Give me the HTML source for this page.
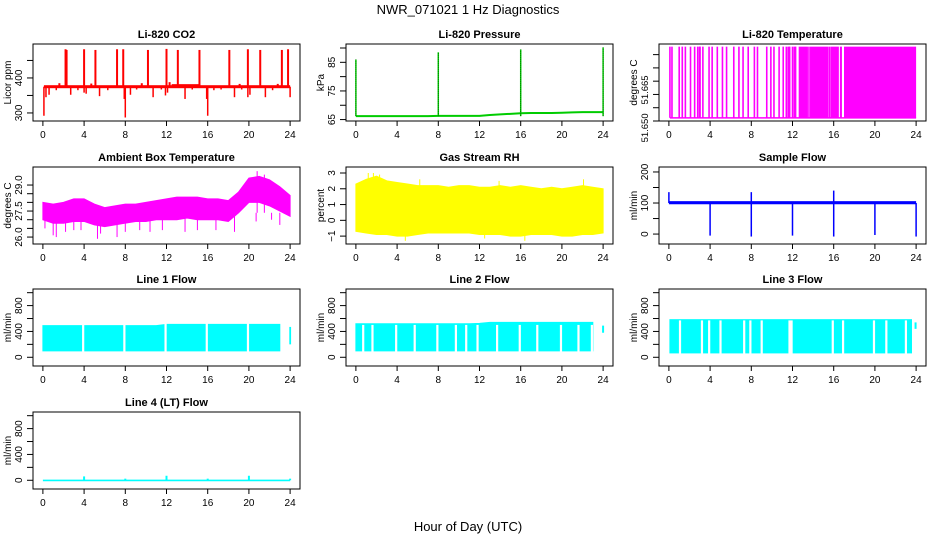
<!DOCTYPE html>
<html><head><meta charset="utf-8"><style>
html,body{margin:0;padding:0;background:#fff;}
svg{display:block;font-family:"Liberation Sans",sans-serif;}
</style></head><body>
<svg id="c" width="936" height="540" viewBox="0 0 936 540">
<text x="468" y="14" font-size="13" text-anchor="middle">NWR_071021  1 Hz Diagnostics</text>
<text x="468" y="531" font-size="13" text-anchor="middle">Hour of Day (UTC)</text>
</svg>
<script>
// ---- data ----
const hours = [0,1,2,3,4,5,6,7,8,9,10,11,12,13,14,15,16,17,18,19,20,21,22,23,24];
const xTicks = [0,4,8,12,16,20,24];
// CO2
const co2Base = 375, co2Base2 = 378;
const co2Up = [[2.2,482],[2.3,480],[4,482],[5.1,480],[7.2,482],[7.8,482],[10.2,480],[12,483],[13.1,480],[15.2,480],[18.1,480],[19.9,482],[21.1,480],[23.2,480],[23.8,482]];
const co2Down = [[0.1,292],[0.3,345],[0.6,352],[1.3,365],[2.7,352],[3.4,365],[4,358],[4.2,355],[5.5,348],[6.3,365],[7.9,340],[8,287],[8.5,352],[9.1,367],[10.7,345],[11.5,367],[11.9,350],[12.1,358],[13.8,340],[14.5,367],[15.9,340],[16,292],[16.6,365],[17.3,367],[18.6,345],[19.3,367],[19.9,345],[20.1,352],[21.6,345],[22.3,365],[24,345]];
const co2Bump = [[1.6,385],[9.6,385],[12.3,388],[4.7,384],[19.1,383],[22.8,383]];
// Pressure
const presBase = [66.2,66.2,66.2,66.2,66.2,66.2,66.2,66.2,66.3,66.3,66.3,66.3,66.3,66.6,66.8,67.0,67.2,67.3,67.3,67.3,67.4,67.5,67.6,67.6,67.6];
const presSpikes = [[0,86],[8,88.5],[16,89.5],[24,90.2]];
// Li-820 temperature
const tempLo = 51.6512, tempHi = 51.678;
const tempLines = [0.1,0.3,1.0,1.3,1.6,2.1,2.5,2.8,3.0,3.3,3.9,4.2,4.7,5.2,5.6,6.3,6.8,7.2,7.7,8.3,8.6,9.5,9.9,10.2,10.7,11.1,11.4,11.7,12.0,12.3,13.6,15.6];
const tempBlocks = [[2.9,3.1],[11.5,11.8],[12.1,12.3],[12.6,13.5],[13.7,15.5],[15.7,16.5],[16.6,16.8],[17.0,24.0]];
// Ambient box temperature
const ambHi = [28.0,27.9,28.0,28.2,28.2,27.9,27.7,27.8,27.9,27.9,28.0,28.1,28.2,28.3,28.3,28.3,28.2,28.2,28.1,28.6,29.4,29.5,29.3,28.9,28.4];
const ambLo = [27.0,26.8,26.8,26.9,26.9,26.7,26.6,26.7,26.8,26.9,26.9,27.0,27.0,27.0,27.1,27.0,27.0,27.0,26.9,27.4,28.0,28.0,27.8,27.5,27.2];
const ambSpikes = [[0.2,26.5],[1.0,26.1],[1.3,26.0],[2.2,26.3],[3.0,26.4],[3.7,26.4],[5.3,25.9],[5.6,26.2],[7.2,26.0],[8.0,26.3],[9.4,26.4],[10.4,26.3],[11.6,26.4],[13.8,26.3],[15.0,26.4],[16.8,26.4],[18.6,26.3],[20.7,26.9],[22.2,27.0],[23.0,26.7],[20.8,29.8],[21.5,29.6]];
// Gas stream RH
const rhHi = [2.3,2.6,2.8,2.5,2.4,2.3,2.2,2.2,2.2,2.1,2.2,2.2,2.1,2.1,2.2,2.1,2.2,2.1,2.0,2.1,2.0,2.1,2.2,2.1,2.0];
const rhLo = [-0.7,-0.8,-0.9,-0.9,-1.0,-1.0,-0.9,-0.8,-0.8,-0.8,-0.8,-0.8,-0.9,-0.9,-0.9,-1.0,-1.0,-0.9,-0.9,-0.9,-1.0,-1.0,-0.9,-0.9,-0.8];
const rhSpikes = [[1.2,3.0],[1.7,3.0],[2.3,2.9],[6.2,2.6],[13.9,2.5],[22.1,2.6],[4.8,-1.3],[16.4,-1.3],[12.5,-1.15]];
// Sample flow
const sfLo = 96, sfHi = 106;
const sfDrops = [[4,-5],[8,-8],[12,-5],[16,-8],[20,-3],[24,-8]];
const sfUp = [[0,135],[8,135],[16,140]];
// Line flows
const l1Hi = [490,490,490,490,490,490,490,490,490,490,490,490,510,510,510,510,510,510,510,510,510,510,510,510,470];
const l1Lo = 100;
const l1Gaps = [3.9,7.9,11.9,15.9,19.9,23.8];
const l2Hi = [520,520,520,520,520,520,520,520,520,520,520,520,525,540,540,540,540,540,540,540,540,540,540,540,540];
const l2Lo = 100;
const l2Gaps = [0.7,1.6,3.9,5.7,7.9,9.7,10.7,11.8,13.7,15.9,17.6,19.9,21.6,22.9];
const l3Hi = 590, l3Lo = 60;
const l3Gaps = [1.07,3.2,3.9,5.0,7.3,7.9,9.0,11.7,11.9,15.9,16.9,19.9,21.1,23.0];
const l4Spikes = [[4,60],[8,25],[12,70],[16,25],[20,70],[24,25]];

// ---- layout ----
const svg = document.getElementById('c');
const NS = 'http://www.w3.org/2000/svg';
const cols = [[33,300],[346,613],[659,926]];
const rows = [[44,121],[167,244],[289,366],[412,489]];
function mk(tag, attrs, parent){
  const e = document.createElementNS(NS, tag);
  for (const k in attrs) e.setAttribute(k, attrs[k]);
  (parent||svg).appendChild(e); return e;
}
function panel(name, ci, ri, title, ylab, ylim, yticks, ylabels, lfs){
  const [x0,x1] = cols[ci], [y0,y1] = rows[ri];
  const g = mk('g', {});
  
  
  const w = x1-x0, pad = w*0.04/1.08;
  const sx = t => x0 + pad + (t/24)*(w-2*pad);
  const sy = v => y1 - (v-ylim[0])/(ylim[1]-ylim[0])*(y1-y0);
  const plot = mk('g', {}, g);
  
  
  const frame = mk('rect', {x:x0, y:y0, width:w, height:y1-y0, fill:'none', stroke:'#000', 'stroke-width':1}, g);
  
  
  const t = mk('text', {x:(x0+x1)/2, y:y0-6, 'font-size':11, 'font-weight':'bold', 'text-anchor':'middle'}, g);
  t.textContent = title;
  
  
  const xa = mk('g', {}, g);
  
  
  xTicks.forEach(v => {
    mk('line', {x1:sx(v), x2:sx(v), y1:y1, y2:y1+5, stroke:'#000'}, xa);
    const l = mk('text', {x:sx(v), y:y1+17, 'font-size':10, 'text-anchor':'middle'}, xa);
    l.textContent = v;
  });
  const ya = mk('g', {}, g);
  
  
  yticks.forEach(v => mk('line', {x1:x0-6, x2:x0, y1:sy(v), y2:sy(v), stroke:'#000'}, ya));
  ylabels.forEach(([v,s]) => {
    const l = mk('text', {x:0, y:0, 'font-size':lfs||10, 'text-anchor':'middle', transform:`translate(${x0-11},${sy(v)}) rotate(-90)`}, ya);
    l.textContent = s;
  });
  const yl = mk('text', {x:0, y:0, 'font-size':10, 'text-anchor':'middle', transform:`translate(${x0-22},${(y0+y1)/2}) rotate(-90)`}, g);
  yl.textContent = ylab;
  
  
  return {sx, sy, plot};
}
function vline(p, t, a, b, col, extra){
  return mk('line', Object.assign({x1:p.sx(t), x2:p.sx(t), y1:p.sy(a), y2:p.sy(b), stroke:col, 'stroke-width':1.3}, extra||{}), p.plot);
}
function band(p, lo, hi, col, t0, t1){
  const pts = [];
  hours.forEach((h,i) => { if (h>=t0 && h<=t1) pts.push(p.sx(h)+','+p.sy(hi[i])); });
  for (let i=hours.length-1;i>=0;i--) { const h=hours[i]; if (h>=t0 && h<=t1) pts.push(p.sx(h)+','+p.sy(lo[i])); }
  mk('polygon', {points:pts.join(' '), fill:col, stroke:col}, p.plot);
}
const fill = (n,v) => hours.map(()=>v);

// CO2
let p = panel('co2-panel',0,0,'Li-820 CO2','Licor ppm',[277,497],[300,350,400,450],[[300,'300'],[400,'400']]);
mk('rect',{x:p.sx(0.1),y:p.sy(co2Base)-1.5,width:p.sx(24)-p.sx(0.1),height:3,fill:'#f00'},p.plot);
mk('rect',{x:p.sx(12.5),y:p.sy(co2Base2)-1.5,width:p.sx(15.3)-p.sx(12.5),height:3,fill:'#f00'},p.plot);
co2Up.forEach(([t,v])=>vline(p,t,co2Base,v,'#f00',{'stroke-width':2}));
co2Down.forEach(([t,v])=>vline(p,t,co2Base,v,'#f00',{'stroke-width':1.5}));
co2Bump.forEach(([t,v])=>vline(p,t,co2Base,v,'#f00',{'stroke-width':2}));

// Pressure
p = panel('pressure-panel',1,0,'Li-820 Pressure','kPa',[64.5,91.4],[65,70,75,80,85,90],[[65,'65'],[75,'75'],[85,'85']]);
mk('polyline',{points:hours.map((h,i)=>p.sx(h)+','+p.sy(presBase[i])).join(' '),fill:'none',stroke:'#0c0','stroke-width':2},p.plot);
presSpikes.forEach(([t,v])=>{vline(p,t,66.2,v,'#0c0',{'stroke-width':1.5});vline(p,t,66.2,v,'#060',{'stroke-width':0.8,'stroke-dasharray':'1,1'});});

// Li-820 temperature
p = panel('li820-temp-panel',2,0,'Li-820 Temperature','degrees C',[51.65,51.679],[51.65,51.655,51.66,51.665,51.67,51.675],[[51.6474,'51.650'],[51.6617,'51.665']],9.5);
mk('line',{x1:p.sx(0.1),x2:p.sx(24),y1:p.sy(tempLo),y2:p.sy(tempLo),stroke:'#f0f','stroke-width':1.5},p.plot);
tempLines.forEach(t=>vline(p,t,tempLo,tempHi,'#f0f',{'stroke-width':1.6}));
tempBlocks.forEach(([a,b])=>mk('rect',{x:p.sx(a),y:p.sy(tempHi),width:p.sx(b)-p.sx(a),height:p.sy(tempLo)-p.sy(tempHi),fill:'#f0f'},p.plot));

// Ambient
p = panel('ambient-temp-panel',0,1,'Ambient Box Temperature','degrees C',[25.6,30.04],[26,26.5,27,27.5,28,28.5,29],[[26,'26.0'],[27.5,'27.5'],[29,'29.0']]);
band(p,ambLo,ambHi,'#f0f',0,24);
ambSpikes.forEach(([t,v])=>vline(p,t,27.4,v,'#f0f',{'stroke-width':1}));

// RH
p = panel('rh-panel',1,1,'Gas Stream RH','percent',[-1.5,3.38],[-1,0,1,2,3],[[-1,'\u22121'],[0,'0'],[1,'1'],[2,'2'],[3,'3']]);
band(p,rhLo,rhHi,'#ff0',0,24);
rhSpikes.forEach(([t,v])=>vline(p,t,0.8,v,'#ff0',{'stroke-width':1}));

// Sample flow
p = panel('sample-flow-panel',2,1,'Sample Flow','ml/min',[-32,216],[0,50,100,150,200],[[0,'0'],[100,'100'],[200,'200']]);
mk('rect',{x:p.sx(0),y:p.sy(sfHi),width:p.sx(24)-p.sx(0),height:p.sy(sfLo)-p.sy(sfHi),fill:'#00f'},p.plot);
sfDrops.forEach(([t,v])=>vline(p,t,100,v,'#00f',{'stroke-width':1.5}));
sfUp.forEach(([t,v])=>vline(p,t,100,v,'#00f',{'stroke-width':1.5}));

// Line flows
const fy = [-135,1057], fticks=[0,200,400,600,800,1000], flabs=[[0,'0'],[400,'400'],[800,'800']];
function gaps(p, list, lo, hi){ list.forEach(t=>mk('rect',{x:p.sx(t)-1,y:p.sy(hi)-2,width:2.2,height:p.sy(lo)-p.sy(hi)+4,fill:'#fff'},p.plot)); }
p = panel('line1-flow-panel',0,2,'Line 1 Flow','ml/min',fy,fticks,flabs);
band(p,fill(0,l1Lo),l1Hi,'#0ff',0,23.7);
mk('rect',{x:p.sx(23.9),y:p.sy(470),width:2,height:p.sy(200)-p.sy(470),fill:'#0ff'},p.plot);
gaps(p,l1Gaps,l1Lo,520);
p = panel('line2-flow-panel',1,2,'Line 2 Flow','ml/min',fy,fticks,flabs);
band(p,fill(0,l2Lo),l2Hi,'#0ff',0,23.8);
mk('rect',{x:p.sx(23.9),y:p.sy(490),width:2,height:p.sy(380)-p.sy(490),fill:'#0ff'},p.plot);
gaps(p,l2Gaps,l2Lo,470);
p = panel('line3-flow-panel',2,2,'Line 3 Flow','ml/min',fy,fticks,flabs);
mk('rect',{x:p.sx(0.05),y:p.sy(l3Hi),width:p.sx(23.6)-p.sx(0.05),height:p.sy(l3Lo)-p.sy(l3Hi),fill:'#0ff'},p.plot);
mk('rect',{x:p.sx(23.85),y:p.sy(540),width:2,height:p.sy(440)-p.sy(540),fill:'#0ff'},p.plot);
gaps(p,l3Gaps,l3Lo,540);
p = panel('line4-flow-panel',0,3,'Line 4 (LT) Flow','ml/min',fy,fticks,flabs);
mk('rect',{x:p.sx(0),y:p.sy(10),width:p.sx(24)-p.sx(0),height:p.sy(-15)-p.sy(10),fill:'#0ff'},p.plot);
l4Spikes.forEach(([t,v])=>vline(p,t,0,v,'#0ff',{'stroke-width':2}));
</script>
</body></html>
